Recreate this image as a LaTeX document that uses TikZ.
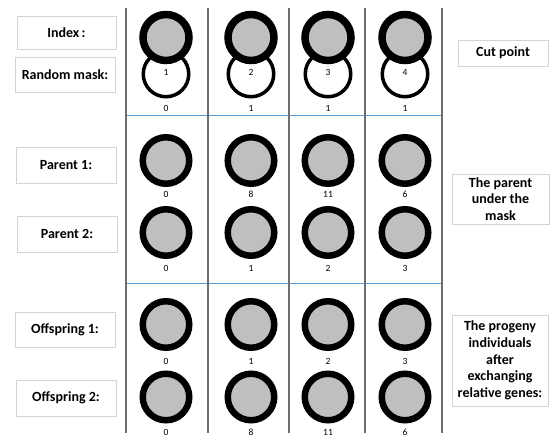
\documentclass[tikz,border=0pt]{standalone}
\usepackage{fontspec}
\setmainfont{Carlito}
\usetikzlibrary{shapes.geometric,shadows}
\definecolor{cgray}{HTML}{BFBFBF}
\definecolor{vline}{HTML}{6E6E6E}
\definecolor{hline}{HTML}{5B9BD5}
\definecolor{bbord}{HTML}{D4D4D4}
\tikzset{
 lbl/.style={draw=bbord, fill=white, line width=0.8pt, font=\fontsize{14}{16.7}\selectfont\bfseries, align=center, inner sep=0pt,
   drop shadow={shadow xshift=1.2pt, shadow yshift=-1.2pt, fill=black, opacity=0.12}},
 gene/.style={circle, draw=black, line width=6.5pt, fill=cgray, minimum size=46.5pt, inner sep=0pt},
 topgene/.style={gene, line width=7.5pt, minimum size=46pt},
 maskc/.style={circle, draw=black, line width=3.5pt, fill=white, minimum size=45.5pt, inner sep=0pt},
 num/.style={font=\fontsize{9.5}{11}\selectfont, inner sep=0pt},
 colline/.style={draw=vline, line width=1.3pt},
 rowline/.style={draw=hline, line width=1pt}
}
\begin{document}
\begin{tikzpicture}[x=1pt,y=-1pt]
\useasboundingbox (0,0) rectangle (553,438);
% grid
\foreach \x [count=\i] in {126,208,289,365,442} {
  \coordinate (vt\i) at (\x,8);
  \coordinate (vb\i) at (\x,433);
}
\coordinate (h1l) at (126,116); \coordinate (h1r) at (442,116);
\coordinate (h2l) at (126,283); \coordinate (h2r) at (442,283);
\draw[rowline] (h1l) -- (h1r);
\draw[rowline] (h2l) -- (h2r);
\foreach \i in {1,...,5} { \draw[colline] (vt\i) -- (vb\i); }
% left labels
\node[lbl, minimum width=99pt, minimum height=33pt] (lidx) at (66.5,32.5) {Index\,:};
\node[lbl, minimum width=100pt, minimum height=35pt] (lmask) at (65,74.5) {Random mask:};
\node[lbl, minimum width=100pt, minimum height=36pt] (lp1) at (66,165) {Parent 1:};
\node[lbl, minimum width=100pt, minimum height=36pt] (lp2) at (67,234) {Parent 2:};
\node[lbl, minimum width=100pt, minimum height=35pt] (lo1) at (65,329.5) {Offspring 1:};
\node[lbl, minimum width=100pt, minimum height=36pt] (lo2) at (66,398) {Offspring 2:};
% right labels
\node[lbl, minimum width=90pt, minimum height=26pt] (rcut) at (503,53) {Cut point};
\node[lbl, minimum width=97pt, minimum height=50pt] (rpar) at (500.5,199) {The parent\\under the\\mask};
\node[lbl, minimum width=96pt, minimum height=91pt] (rprog) at (500,360.5) {The progeny\\individuals\\after\\exchanging\\relative genes:};
% columns
\foreach \x/\m/\k/\pa/\pb/\oa/\ob [count=\c] in
  {166/0/1/0/0/0/0, 251/1/2/8/1/1/8, 328/1/3/11/2/2/11, 405/1/4/6/3/3/6} {
  \node[maskc] (w\c) at (\x,74) {};
  \node[num] (wn\c) at (\x,72) {\k};
  \node[topgene] (g\c) at (\x,37.5) {};
  \node[num] (mn\c) at (\x,108) {\m};
  \node[gene] (pa\c) at (\x,160.5) {};
  \node[num] (pan\c) at (\x,194) {\pa};
  \node[gene] (pb\c) at (\x,232.5) {};
  \node[num] (pbn\c) at (\x,268) {\pb};
  \node[gene] (oa\c) at (\x,324.5) {};
  \node[num] (oan\c) at (\x,361) {\oa};
  \node[gene] (ob\c) at (\x,397) {};
  \node[num] (obn\c) at (\x,432) {\ob};
}
\end{tikzpicture}
\end{document}
